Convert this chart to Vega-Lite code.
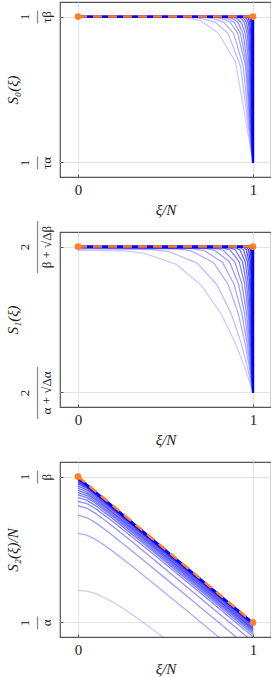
{
"$schema": "https://vega.github.io/schema/vega-lite/v6.json",
"padding": {"left": 4, "top": 1, "right": 1, "bottom": 0},
"config": {
  "font": "Liberation Serif",
  "view": {"stroke": "#555555", "strokeWidth": 1.2},
  "axis": {"grid": true, "gridColor": "#e3e3e3", "gridWidth": 1, "domain": false, "ticks": true, "tickSize": -3, "tickColor": "#555555",
    "labelColor": "#222222", "titleColor": "#222222", "labelFont": "Liberation Serif", "titleFont": "Liberation Serif",
    "titleFontWeight": "normal", "titleFontStyle": "italic"}
},
"datasets": {
  "s0": [
    {"N":10,"x":0,"y":1},{"N":10,"x":0.5,"y":0.999},{"N":10,"x":0.6,"y":0.994},{"N":10,"x":0.7,"y":0.972},{"N":10,"x":0.8,"y":0.89},{"N":10,"x":0.9,"y":0.69},{"N":10,"x":1,"y":0},
    {"N":14,"x":0,"y":1},{"N":14,"x":0.643,"y":0.995},{"N":14,"x":0.714,"y":0.985},{"N":14,"x":0.786,"y":0.96},{"N":14,"x":0.857,"y":0.885},{"N":14,"x":0.929,"y":0.66},{"N":14,"x":1,"y":0},
    {"N":18,"x":0,"y":1},{"N":18,"x":0.722,"y":0.995},{"N":18,"x":0.778,"y":0.985},{"N":18,"x":0.833,"y":0.96},{"N":18,"x":0.889,"y":0.885},{"N":18,"x":0.944,"y":0.66},{"N":18,"x":1,"y":0},
    {"N":23,"x":0,"y":1},{"N":23,"x":0.783,"y":0.995},{"N":23,"x":0.826,"y":0.985},{"N":23,"x":0.87,"y":0.96},{"N":23,"x":0.913,"y":0.885},{"N":23,"x":0.957,"y":0.66},{"N":23,"x":1,"y":0},
    {"N":28,"x":0,"y":1},{"N":28,"x":0.821,"y":0.995},{"N":28,"x":0.857,"y":0.985},{"N":28,"x":0.893,"y":0.96},{"N":28,"x":0.929,"y":0.885},{"N":28,"x":0.964,"y":0.66},{"N":28,"x":1,"y":0},
    {"N":35,"x":0,"y":1},{"N":35,"x":0.857,"y":0.995},{"N":35,"x":0.886,"y":0.985},{"N":35,"x":0.914,"y":0.96},{"N":35,"x":0.943,"y":0.885},{"N":35,"x":0.971,"y":0.66},{"N":35,"x":1,"y":0},
    {"N":45,"x":0,"y":1},{"N":45,"x":0.889,"y":0.995},{"N":45,"x":0.911,"y":0.985},{"N":45,"x":0.933,"y":0.96},{"N":45,"x":0.956,"y":0.885},{"N":45,"x":0.978,"y":0.66},{"N":45,"x":1,"y":0},
    {"N":60,"x":0,"y":1},{"N":60,"x":0.917,"y":0.995},{"N":60,"x":0.933,"y":0.985},{"N":60,"x":0.95,"y":0.96},{"N":60,"x":0.967,"y":0.885},{"N":60,"x":0.983,"y":0.66},{"N":60,"x":1,"y":0},
    {"N":80,"x":0,"y":1},{"N":80,"x":0.9375,"y":0.995},{"N":80,"x":0.95,"y":0.985},{"N":80,"x":0.9625,"y":0.96},{"N":80,"x":0.975,"y":0.885},{"N":80,"x":0.9875,"y":0.66},{"N":80,"x":1,"y":0},
    {"N":110,"x":0,"y":1},{"N":110,"x":0.955,"y":0.995},{"N":110,"x":0.964,"y":0.985},{"N":110,"x":0.973,"y":0.96},{"N":110,"x":0.982,"y":0.885},{"N":110,"x":0.991,"y":0.66},{"N":110,"x":1,"y":0},
    {"N":160,"x":0,"y":1},{"N":160,"x":0.969,"y":0.995},{"N":160,"x":0.975,"y":0.985},{"N":160,"x":0.981,"y":0.96},{"N":160,"x":0.9875,"y":0.885},{"N":160,"x":0.994,"y":0.66},{"N":160,"x":1,"y":0},
    {"N":250,"x":0,"y":1},{"N":250,"x":0.98,"y":0.995},{"N":250,"x":0.984,"y":0.985},{"N":250,"x":0.988,"y":0.96},{"N":250,"x":0.992,"y":0.885},{"N":250,"x":0.996,"y":0.66},{"N":250,"x":1,"y":0},
    {"N":500,"x":0,"y":1},{"N":500,"x":0.99,"y":0.995},{"N":500,"x":0.992,"y":0.985},{"N":500,"x":0.994,"y":0.96},{"N":500,"x":0.996,"y":0.885},{"N":500,"x":0.998,"y":0.66},{"N":500,"x":1,"y":0}
  ],
  "s1": [
    {"N":10,"x":0,"y":0.975},{"N":10,"x":0.266,"y":0.97},{"N":10,"x":0.376,"y":0.9555},{"N":10,"x":0.562,"y":0.8775},{"N":10,"x":0.707,"y":0.731},{"N":10,"x":0.819,"y":0.536},{"N":10,"x":0.898,"y":0.341},{"N":10,"x":0.952,"y":0.1755},{"N":10,"x":1,"y":0},
    {"N":14,"x":0,"y":0.985},{"N":14,"x":0.413,"y":0.98},{"N":14,"x":0.521,"y":0.965},{"N":14,"x":0.681,"y":0.8865},{"N":14,"x":0.794,"y":0.739},{"N":14,"x":0.875,"y":0.542},{"N":14,"x":0.931,"y":0.345},{"N":14,"x":0.9675,"y":0.177},{"N":14,"x":1,"y":0},
    {"N":18,"x":0,"y":0.99},{"N":18,"x":0.555,"y":0.985},{"N":18,"x":0.647,"y":0.97},{"N":18,"x":0.774,"y":0.891},{"N":18,"x":0.857,"y":0.7425},{"N":18,"x":0.915,"y":0.5445},{"N":18,"x":0.953,"y":0.3465},{"N":18,"x":0.978,"y":0.178},{"N":18,"x":1,"y":0},
    {"N":23,"x":0,"y":0.992},{"N":23,"x":0.643,"y":0.987},{"N":23,"x":0.722,"y":0.972},{"N":23,"x":0.825,"y":0.893},{"N":23,"x":0.891,"y":0.744},{"N":23,"x":0.9356,"y":0.546},{"N":23,"x":0.9647,"y":0.347},{"N":23,"x":0.9836,"y":0.179},{"N":23,"x":1,"y":0},
    {"N":28,"x":0,"y":0.994},{"N":28,"x":0.718,"y":0.989},{"N":28,"x":0.783,"y":0.974},{"N":28,"x":0.866,"y":0.895},{"N":28,"x":0.917,"y":0.7455},{"N":28,"x":0.951,"y":0.547},{"N":28,"x":0.9734,"y":0.348},{"N":28,"x":0.9877,"y":0.179},{"N":28,"x":1,"y":0},
    {"N":35,"x":0,"y":0.995},{"N":35,"x":0.777,"y":0.99},{"N":35,"x":0.83,"y":0.975},{"N":35,"x":0.896,"y":0.8955},{"N":35,"x":0.936,"y":0.746},{"N":35,"x":0.9627,"y":0.547},{"N":35,"x":0.9797,"y":0.348},{"N":35,"x":0.9906,"y":0.179},{"N":35,"x":1,"y":0},
    {"N":45,"x":0,"y":0.996},{"N":45,"x":0.827,"y":0.991},{"N":45,"x":0.87,"y":0.976},{"N":45,"x":0.921,"y":0.896},{"N":45,"x":0.952,"y":0.747},{"N":45,"x":0.972,"y":0.548},{"N":45,"x":0.9847,"y":0.349},{"N":45,"x":0.9929,"y":0.179},{"N":45,"x":1,"y":0},
    {"N":60,"x":0,"y":0.997},{"N":60,"x":0.8666,"y":0.992},{"N":60,"x":0.8997,"y":0.977},{"N":60,"x":0.9397,"y":0.897},{"N":60,"x":0.9632,"y":0.748},{"N":60,"x":0.9786,"y":0.548},{"N":60,"x":0.9884,"y":0.349},{"N":60,"x":0.9947,"y":0.179},{"N":60,"x":1,"y":0},
    {"N":80,"x":0,"y":0.998},{"N":80,"x":0.8994,"y":0.993},{"N":80,"x":0.9248,"y":0.978},{"N":80,"x":0.955,"y":0.898},{"N":80,"x":0.9727,"y":0.7485},{"N":80,"x":0.9841,"y":0.549},{"N":80,"x":0.9914,"y":0.349},{"N":80,"x":0.996,"y":0.18},{"N":80,"x":1,"y":0},
    {"N":110,"x":0,"y":0.998},{"N":110,"x":0.927,"y":0.993},{"N":110,"x":0.9456,"y":0.978},{"N":110,"x":0.9676,"y":0.898},{"N":110,"x":0.9804,"y":0.7485},{"N":110,"x":0.9887,"y":0.549},{"N":110,"x":0.9938,"y":0.349},{"N":110,"x":0.9972,"y":0.18},{"N":110,"x":1,"y":0},
    {"N":160,"x":0,"y":0.999},{"N":160,"x":0.9484,"y":0.994},{"N":160,"x":0.9616,"y":0.979},{"N":160,"x":0.9772,"y":0.899},{"N":160,"x":0.9862,"y":0.749},{"N":160,"x":0.992,"y":0.55},{"N":160,"x":0.9957,"y":0.35},{"N":160,"x":0.998,"y":0.18},{"N":160,"x":1,"y":0},
    {"N":220,"x":0,"y":0.999},{"N":220,"x":0.9653,"y":0.994},{"N":220,"x":0.9742,"y":0.979},{"N":220,"x":0.9848,"y":0.899},{"N":220,"x":0.9908,"y":0.749},{"N":220,"x":0.9947,"y":0.55},{"N":220,"x":0.9971,"y":0.35},{"N":220,"x":0.9987,"y":0.18},{"N":220,"x":1,"y":0},
    {"N":320,"x":0,"y":1},{"N":320,"x":0.979,"y":0.995},{"N":320,"x":0.9845,"y":0.98},{"N":320,"x":0.9908,"y":0.9},{"N":320,"x":0.9945,"y":0.75},{"N":320,"x":0.9968,"y":0.55},{"N":320,"x":0.9983,"y":0.35},{"N":320,"x":0.9992,"y":0.18},{"N":320,"x":1,"y":0},
    {"N":500,"x":0,"y":1},{"N":500,"x":0.9895,"y":0.995},{"N":500,"x":0.9922,"y":0.98},{"N":500,"x":0.9954,"y":0.9},{"N":500,"x":0.9972,"y":0.75},{"N":500,"x":0.9984,"y":0.55},{"N":500,"x":0.9991,"y":0.35},{"N":500,"x":0.9996,"y":0.18},{"N":500,"x":1,"y":0}
  ],
  "s2": [
    {"N":2,"x":0,"y":0.22},{"N":2,"x":0.05,"y":0.214},{"N":2,"x":0.1,"y":0.197},{"N":2,"x":0.15,"y":0.171},{"N":2,"x":0.2,"y":0.139},{"N":2,"x":0.25,"y":0.102},{"N":2,"x":0.3,"y":0.062},{"N":2,"x":0.35,"y":0.02},{"N":2,"x":0.4,"y":-0.024},{"N":2,"x":0.45,"y":-0.069},{"N":2,"x":0.5,"y":-0.114},{"N":2,"x":0.55,"y":-0.161},
    {"N":5,"x":0,"y":0.61},{"N":5,"x":0.05,"y":0.598},{"N":5,"x":0.1,"y":0.569},{"N":5,"x":0.15,"y":0.53},{"N":5,"x":0.2,"y":0.487},{"N":5,"x":0.3,"y":0.394},{"N":5,"x":0.4,"y":0.298},{"N":5,"x":0.5,"y":0.2},{"N":5,"x":0.6,"y":0.102},{"N":5,"x":0.7,"y":0.003},{"N":5,"x":0.8,"y":-0.096},{"N":5,"x":0.85,"y":-0.146},
    {"N":8,"x":0,"y":0.735},{"N":8,"x":0.05,"y":0.719},{"N":8,"x":0.1,"y":0.684},{"N":8,"x":0.15,"y":0.641},{"N":8,"x":0.2,"y":0.594},{"N":8,"x":0.3,"y":0.498},{"N":8,"x":0.4,"y":0.4},{"N":8,"x":0.5,"y":0.302},{"N":8,"x":0.6,"y":0.203},{"N":8,"x":0.7,"y":0.103},{"N":8,"x":0.8,"y":0.004},{"N":8,"x":0.9,"y":-0.096},{"N":8,"x":0.95,"y":-0.146},
    {"N":11,"x":0,"y":0.8},{"N":11,"x":0.05,"y":0.784},{"N":11,"x":0.1,"y":0.748},{"N":11,"x":0.15,"y":0.7045},{"N":11,"x":0.2,"y":0.658},{"N":11,"x":0.3,"y":0.562},{"N":11,"x":0.4,"y":0.464},{"N":11,"x":0.7,"y":0.1665},{"N":11,"x":1,"y":-0.1325},
    {"N":14,"x":0,"y":0.83},{"N":14,"x":0.05,"y":0.815},{"N":14,"x":0.1,"y":0.78},{"N":14,"x":0.2,"y":0.691},{"N":14,"x":0.4,"y":0.498},{"N":14,"x":0.7,"y":0.201},{"N":14,"x":1,"y":-0.098},
    {"N":18,"x":0,"y":0.855},{"N":18,"x":0.05,"y":0.838},{"N":18,"x":0.1,"y":0.801},{"N":18,"x":0.2,"y":0.71},{"N":18,"x":0.4,"y":0.515},{"N":18,"x":0.7,"y":0.217},{"N":18,"x":1,"y":-0.082},
    {"N":22,"x":0,"y":0.875},{"N":22,"x":0.05,"y":0.856},{"N":22,"x":0.1,"y":0.817},{"N":22,"x":0.2,"y":0.724},{"N":22,"x":0.4,"y":0.528},{"N":22,"x":0.7,"y":0.2297},{"N":22,"x":1,"y":-0.0696},
    {"N":27,"x":0,"y":0.89},{"N":27,"x":0.05,"y":0.87},{"N":27,"x":0.1,"y":0.829},{"N":27,"x":0.2,"y":0.735},{"N":27,"x":0.4,"y":0.539},{"N":27,"x":0.7,"y":0.24},{"N":27,"x":1,"y":-0.059},
    {"N":33,"x":0,"y":0.905},{"N":33,"x":0.05,"y":0.883},{"N":33,"x":0.1,"y":0.8415},{"N":33,"x":0.2,"y":0.747},{"N":33,"x":0.4,"y":0.549},{"N":33,"x":0.7,"y":0.25},{"N":33,"x":1,"y":-0.049},
    {"N":40,"x":0,"y":0.92},{"N":40,"x":0.05,"y":0.896},{"N":40,"x":0.1,"y":0.852},{"N":40,"x":0.2,"y":0.756},{"N":40,"x":0.4,"y":0.558},{"N":40,"x":0.7,"y":0.259},{"N":40,"x":1,"y":-0.041},
    {"N":50,"x":0,"y":0.935},{"N":50,"x":0.05,"y":0.909},{"N":50,"x":0.1,"y":0.864},{"N":50,"x":0.2,"y":0.767},{"N":50,"x":0.4,"y":0.5685},{"N":50,"x":0.7,"y":0.269},{"N":50,"x":1,"y":-0.031},
    {"N":65,"x":0,"y":0.95},{"N":65,"x":0.05,"y":0.921},{"N":65,"x":0.1,"y":0.874},{"N":65,"x":0.2,"y":0.776},{"N":65,"x":0.4,"y":0.577},{"N":65,"x":0.7,"y":0.277},{"N":65,"x":1,"y":-0.022},
    {"N":85,"x":0,"y":0.96},{"N":85,"x":0.05,"y":0.9285},{"N":85,"x":0.1,"y":0.881},{"N":85,"x":0.2,"y":0.783},{"N":85,"x":0.4,"y":0.583},{"N":85,"x":0.7,"y":0.284},{"N":85,"x":1,"y":-0.016},
    {"N":110,"x":0,"y":0.97},{"N":110,"x":0.05,"y":0.9355},{"N":110,"x":0.1,"y":0.887},{"N":110,"x":0.2,"y":0.788},{"N":110,"x":0.4,"y":0.5885},{"N":110,"x":0.7,"y":0.289},{"N":110,"x":1,"y":-0.011},
    {"N":150,"x":0,"y":0.978},{"N":150,"x":0.05,"y":0.941},{"N":150,"x":0.1,"y":0.892},{"N":150,"x":0.2,"y":0.792},{"N":150,"x":0.4,"y":0.593},{"N":150,"x":0.7,"y":0.293},{"N":150,"x":1,"y":-0.007},
    {"N":220,"x":0,"y":0.985},{"N":220,"x":0.05,"y":0.945},{"N":220,"x":0.1,"y":0.895},{"N":220,"x":0.2,"y":0.796},{"N":220,"x":0.4,"y":0.596},{"N":220,"x":0.7,"y":0.296},{"N":220,"x":1,"y":-0.004},
    {"N":400,"x":0,"y":0.99},{"N":400,"x":0.05,"y":0.947},{"N":400,"x":0.1,"y":0.898},{"N":400,"x":0.2,"y":0.798},{"N":400,"x":0.4,"y":0.598},{"N":400,"x":0.7,"y":0.298},{"N":400,"x":1,"y":-0.002}
  ],
  "lim": [
    {"p":1,"s":0,"x":0,"y":1},{"p":1,"s":1,"x":1,"y":1},{"p":1,"s":2,"x":1,"y":0},
    {"p":2,"s":0,"x":0,"y":1},{"p":2,"s":1,"x":1,"y":1},{"p":2,"s":2,"x":1,"y":0},
    {"p":3,"s":0,"x":0,"y":0.99},{"p":3,"s":1,"x":1,"y":-0.003}
  ],
  "ref": [
    {"p":1,"x":0,"y":1},{"p":1,"x":1,"y":1},
    {"p":2,"x":0,"y":1},{"p":2,"x":1,"y":1},
    {"p":3,"x":0,"y":1},{"p":3,"x":1,"y":0}
  ]
},
"spacing": 55,
"bounds": "flush",
"resolve": {"scale": {"opacity": "independent"}},
"vconcat": [
  {
    "width": 211, "height": 175,
    "encoding": {
      "x": {"field": "x", "type": "quantitative", "scale": {"domain": [-0.103, 1.103], "nice": false, "zero": false},
        "axis": {"values": [0, 1], "format": "d", "title": "ξ/N", "labelFontSize": 15, "titleFontSize": 15, "labelPadding": 8, "titlePadding": 5}},
      "y": {"field": "y", "type": "quantitative", "scale": {"domain": [-0.1, 1.1], "nice": false, "zero": false},
        "axis": {"values": [0, 1], "title": "S₀(ξ)", "titleFontSize": 15, "labelFontSize": 13, "labelAngle": 270, "labelAlign": "center", "labelBaseline": "bottom", "labelLineHeight": 11, "labelPadding": 32, "titlePadding": -2,
          "labelExpr": "datum.value == 1 ? ['1', '—', 'τβ'] : ['1', '—', 'τα']"}}
    },
    "layer": [
      {"data": {"name": "s0"}, "mark": {"type": "line", "clip": true, "strokeWidth": 1.3, "color": "#0000ff"},
        "encoding": {"detail": {"field": "N", "type": "nominal"},
          "opacity": {"field": "N", "type": "quantitative", "scale": {"type": "log", "domain": [10, 500], "range": [0.2, 0.9]}, "legend": null}}},
      {"data": {"name": "lim"}, "transform": [{"filter": "datum.p == 1"}], "mark": {"type": "line", "clip": true, "strokeWidth": 2.5, "color": "#0000ff"},
        "encoding": {"order": {"field": "s", "type": "quantitative"}}},
      {"data": {"name": "ref"}, "transform": [{"filter": "datum.p == 1"}], "mark": {"type": "line", "strokeWidth": 2.5, "color": "#ff7f27", "strokeDash": [9, 6]}, "encoding": {}},
      {"data": {"name": "ref"}, "transform": [{"filter": "datum.p == 1"}], "mark": {"type": "point", "filled": true, "size": 45, "opacity": 1, "color": "#ff7f27"}, "encoding": {}}
    ]
  },
  {
    "width": 211, "height": 175,
    "encoding": {
      "x": {"field": "x", "type": "quantitative", "scale": {"domain": [-0.103, 1.103], "nice": false, "zero": false},
        "axis": {"values": [0, 1], "format": "d", "title": "ξ/N", "labelFontSize": 15, "titleFontSize": 15, "labelPadding": 8, "titlePadding": 5}},
      "y": {"field": "y", "type": "quantitative", "scale": {"domain": [-0.1, 1.1], "nice": false, "zero": false},
        "axis": {"values": [0, 1], "title": "S₁(ξ)", "titleFontSize": 15, "labelFontSize": 13, "labelAngle": 270, "labelAlign": "center", "labelBaseline": "bottom", "labelLineHeight": 11, "labelPadding": 32, "titlePadding": -2,
          "labelExpr": "datum.value == 1 ? ['2', '————', 'β + √Δβ'] : ['2', '————', 'α + √Δα']"}}
    },
    "layer": [
      {"data": {"name": "s1"}, "mark": {"type": "line", "clip": true, "strokeWidth": 1.3, "color": "#0000ff"},
        "encoding": {"detail": {"field": "N", "type": "nominal"},
          "opacity": {"field": "N", "type": "quantitative", "scale": {"type": "log", "domain": [10, 500], "range": [0.2, 0.9]}, "legend": null}}},
      {"data": {"name": "lim"}, "transform": [{"filter": "datum.p == 2"}], "mark": {"type": "line", "clip": true, "strokeWidth": 2.5, "color": "#0000ff"},
        "encoding": {"order": {"field": "s", "type": "quantitative"}}},
      {"data": {"name": "ref"}, "transform": [{"filter": "datum.p == 2"}], "mark": {"type": "line", "strokeWidth": 2.5, "color": "#ff7f27", "strokeDash": [9, 6]}, "encoding": {}},
      {"data": {"name": "ref"}, "transform": [{"filter": "datum.p == 2"}], "mark": {"type": "point", "filled": true, "size": 45, "opacity": 1, "color": "#ff7f27"}, "encoding": {}}
    ]
  },
  {
    "width": 211, "height": 175,
    "encoding": {
      "x": {"field": "x", "type": "quantitative", "scale": {"domain": [-0.103, 1.103], "nice": false, "zero": false},
        "axis": {"values": [0, 1], "format": "d", "title": "ξ/N", "labelFontSize": 15, "titleFontSize": 15, "labelPadding": 8, "titlePadding": 4}},
      "y": {"field": "y", "type": "quantitative", "scale": {"domain": [-0.1, 1.1], "nice": false, "zero": false},
        "axis": {"values": [0, 1], "title": "S₂(ξ)/N", "titleFontSize": 15, "labelFontSize": 13, "labelAngle": 270, "labelAlign": "center", "labelBaseline": "bottom", "labelLineHeight": 11, "labelPadding": 32, "titlePadding": -2,
          "labelExpr": "datum.value == 1 ? ['1', '—', 'β'] : ['1', '—', 'α']"}}
    },
    "layer": [
      {"data": {"name": "s2"}, "mark": {"type": "line", "clip": true, "strokeWidth": 1.3, "color": "#0000ff"},
        "encoding": {"detail": {"field": "N", "type": "nominal"},
          "opacity": {"field": "N", "type": "quantitative", "scale": {"type": "log", "domain": [2, 400], "range": [0.2, 0.9]}, "legend": null}}},
      {"data": {"name": "lim"}, "transform": [{"filter": "datum.p == 3"}], "mark": {"type": "line", "clip": true, "strokeWidth": 2.5, "color": "#0000ff"},
        "encoding": {"order": {"field": "s", "type": "quantitative"}}},
      {"data": {"name": "ref"}, "transform": [{"filter": "datum.p == 3"}], "mark": {"type": "line", "strokeWidth": 2.5, "color": "#ff7f27", "strokeDash": [9, 6]}, "encoding": {}},
      {"data": {"name": "ref"}, "transform": [{"filter": "datum.p == 3"}], "mark": {"type": "point", "filled": true, "size": 45, "opacity": 1, "color": "#ff7f27"}, "encoding": {}}
    ]
  }
]
}
